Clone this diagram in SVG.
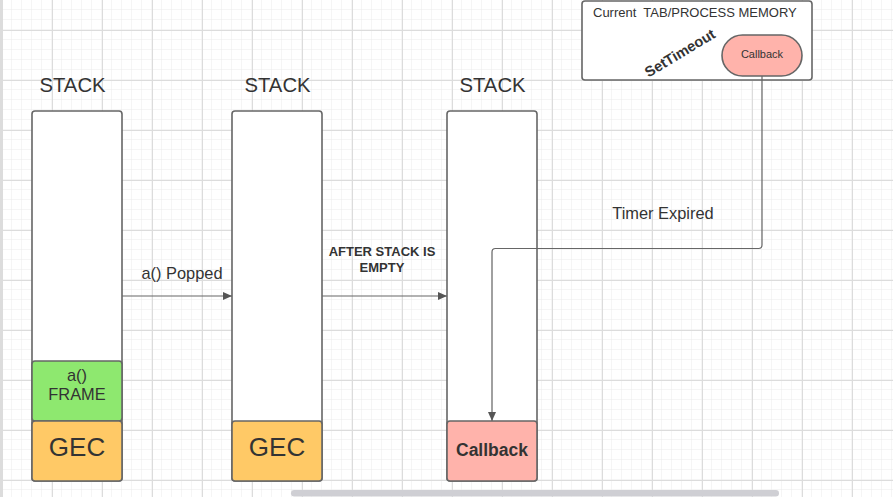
<svg xmlns="http://www.w3.org/2000/svg" width="893" height="497" viewBox="0 0 893 497">
  <style>
    .lbl { font-family: "Liberation Sans", Arial, sans-serif; fill: #333333; }
    .box { stroke: #666666; stroke-width: 1.6; }
    .conn { fill: none; stroke: #666666; stroke-width: 1.2; }
  </style>
  <defs>
    <pattern id="minor" x="2" y="0" width="10" height="10" patternUnits="userSpaceOnUse">
      <path d="M 10 0 V 10 M 0 10 H 10" fill="none" stroke="#ebebeb" stroke-width="1"/>
    </pattern>
    <pattern id="major" x="2" y="30" width="50" height="50" patternUnits="userSpaceOnUse">
      <path d="M 0.5 0 V 50 M 0 0.5 H 50" fill="none" stroke="#dcdcdc" stroke-width="1"/>
    </pattern>
    <marker id="arrow" markerWidth="10" markerHeight="10" refX="9" refY="5" orient="auto" markerUnits="userSpaceOnUse">
      <path d="M 0 1 L 9 5 L 0 9 Z" fill="#555555"/>
    </marker>
  </defs>

  <rect x="0" y="0" width="893" height="497" fill="#ffffff"/>
  <rect x="0" y="0" width="893" height="497" fill="url(#minor)"/>
  <rect x="0" y="0" width="893" height="497" fill="url(#major)"/>
  <rect x="0" y="0" width="3" height="497" fill="#dcdcdc"/>
  <rect x="291" y="490" width="488" height="6.5" rx="3.2" fill="#cfcfd4"/>

  <g id="stack1">
    <text class="lbl" x="72.5" y="92" font-size="20.3" text-anchor="middle">STACK</text>
    <rect class="box" x="32" y="111" width="90" height="370" rx="3" fill="#ffffff"/>
    <rect id="frame-a" class="box" x="32" y="361" width="90" height="60" rx="3" fill="#8ee86f"/>
    <text class="lbl" x="77" y="381" font-size="16.4" text-anchor="middle">a()</text>
    <text class="lbl" x="77" y="400" font-size="16.4" text-anchor="middle">FRAME</text>
    <rect id="gec1" class="box" x="32" y="421" width="90" height="60" rx="3" fill="#ffc966"/>
    <text class="lbl" x="77" y="456" font-size="26" text-anchor="middle">GEC</text>
  </g>

  <g id="stack2">
    <text class="lbl" x="277.5" y="92" font-size="20.3" text-anchor="middle">STACK</text>
    <rect class="box" x="232" y="111" width="90" height="370" rx="3" fill="#ffffff"/>
    <rect id="gec2" class="box" x="232" y="421" width="90" height="60" rx="3" fill="#ffc966"/>
    <text class="lbl" x="277" y="456" font-size="26" text-anchor="middle">GEC</text>
  </g>

  <g id="stack3">
    <text class="lbl" x="492.5" y="92" font-size="20.3" text-anchor="middle">STACK</text>
    <rect class="box" x="447" y="111" width="90" height="370" rx="3" fill="#ffffff"/>
  </g>

  <g id="memory">
    <rect class="box" x="582" y="1" width="230" height="79" rx="3" fill="#ffffff"/>
    <text class="lbl" x="593" y="17" font-size="13" xml:space="preserve">Current  TAB/PROCESS MEMORY</text>
    <text class="lbl" x="680" y="53" font-size="14.6" font-weight="bold" text-anchor="middle" dominant-baseline="central" transform="rotate(-31 680 53)" fill="#222222">SetTimeout</text>
  </g>

  <g id="callback-pill">
    <rect class="box" x="722" y="35" width="80" height="41" rx="20.5" fill="#ffb3ab"/>
    <text class="lbl" x="762" y="57.5" font-size="11" text-anchor="middle">Callback</text>
  </g>

  <g id="connectors">
    <line class="conn" x1="122" y1="296" x2="232" y2="296" marker-end="url(#arrow)"/>
    <line class="conn" x1="322" y1="296" x2="447" y2="296" marker-end="url(#arrow)"/>
    <path class="conn" d="M 762 76 V 245 Q 762 248.5 758.5 248.5 H 495.5 Q 492 248.5 492 252 V 258"/>
    <path d="M 492 252 V 414" fill="none" stroke="#a0a0a0" stroke-width="2"/>
    <line class="conn" x1="492" y1="412" x2="492" y2="421" marker-end="url(#arrow)"/>
    <text class="lbl" x="182" y="278.5" font-size="16.4" text-anchor="middle">a() Popped</text>
    <text class="lbl" x="382" y="255.5" font-size="13" font-weight="bold" text-anchor="middle">AFTER STACK IS</text>
    <text class="lbl" x="382" y="271.5" font-size="13" font-weight="bold" text-anchor="middle">EMPTY</text>
    <text class="lbl" x="663" y="219" font-size="16.4" text-anchor="middle">Timer Expired</text>
  </g>

  <g id="callback-frame">
    <rect class="box" x="447" y="421" width="90" height="60" rx="3" fill="#ffb3ab"/>
    <text class="lbl" x="492" y="455.5" font-size="17.5" font-weight="bold" text-anchor="middle">Callback</text>
  </g>
</svg>
